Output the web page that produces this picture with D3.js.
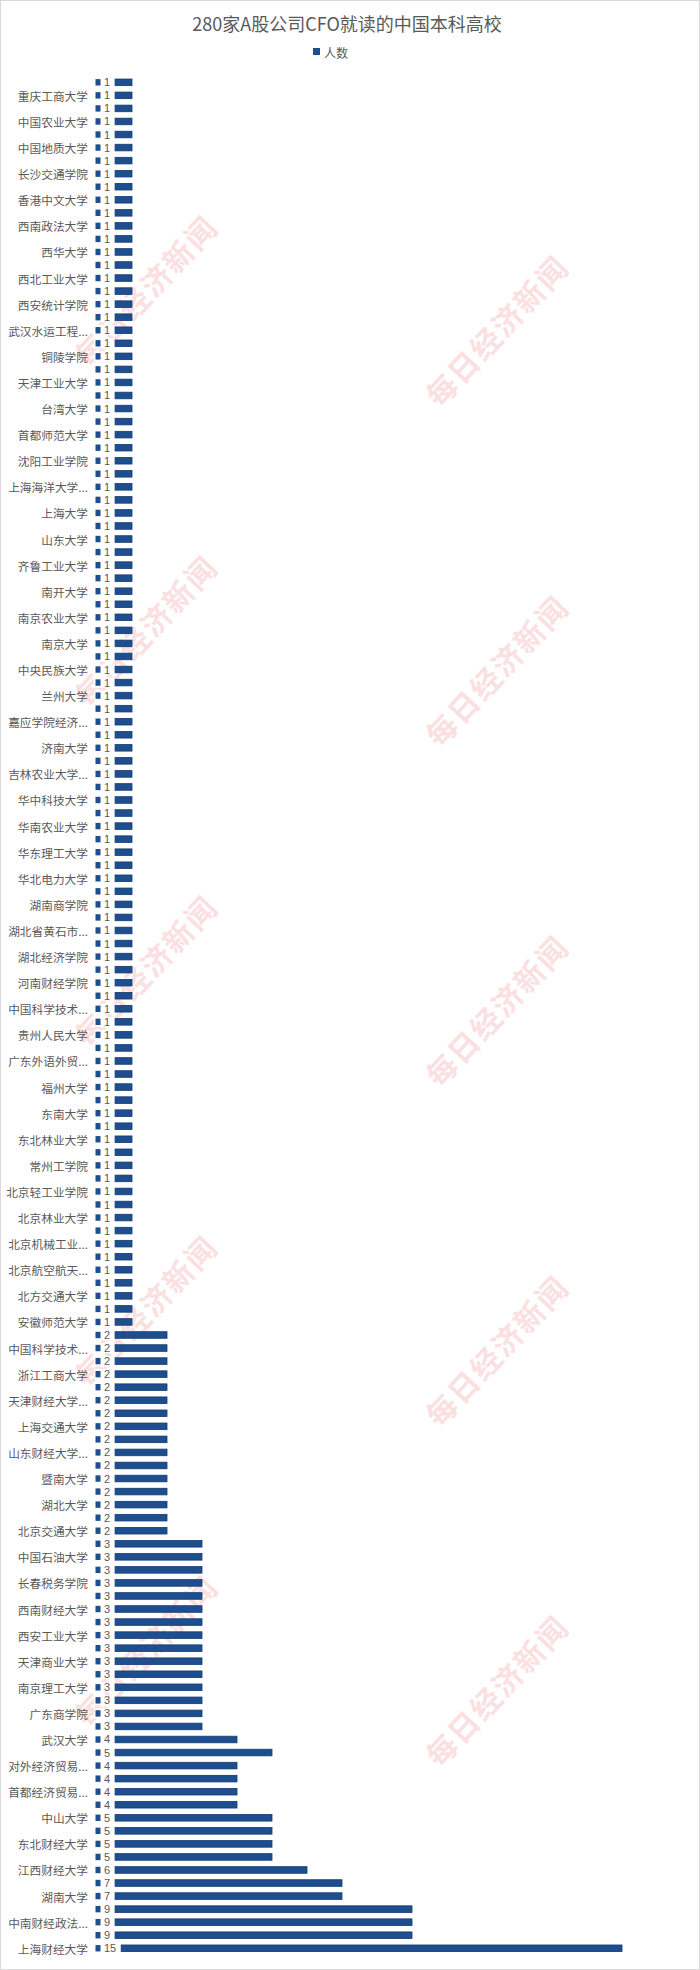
<!DOCTYPE html>
<html><head><meta charset="utf-8">
<script src="https://cdn.jsdelivr.net/npm/d3@7"></script>
<style>
body{margin:0;background:#fff}
text{font-family:"Noto Sans CJK SC","Noto Sans",sans-serif}
text.val{font-family:"Liberation Sans",Arial,sans-serif}
</style>
</head><body>
<svg id="c" width="700" height="1970"></svg>
<script>
const chartTitle = "280家A股公司CFO就读的中国本科高校";
const seriesName = "人数";
// top-to-bottom order; "" = row whose category label is not shown
const categories = [
"", "重庆工商大学", "", "中国农业大学", "", "中国地质大学", "", "长沙交通学院",
"", "香港中文大学", "", "西南政法大学", "", "西华大学", "", "西北工业大学",
"", "西安统计学院", "", "武汉水运工程...", "", "铜陵学院", "", "天津工业大学",
"", "台湾大学", "", "首都师范大学", "", "沈阳工业学院", "", "上海海洋大学...",
"", "上海大学", "", "山东大学", "", "齐鲁工业大学", "", "南开大学",
"", "南京农业大学", "", "南京大学", "", "中央民族大学", "", "兰州大学",
"", "嘉应学院经济...", "", "济南大学", "", "吉林农业大学...", "", "华中科技大学",
"", "华南农业大学", "", "华东理工大学", "", "华北电力大学", "", "湖南商学院",
"", "湖北省黄石市...", "", "湖北经济学院", "", "河南财经学院", "", "中国科学技术...",
"", "贵州人民大学", "", "广东外语外贸...", "", "福州大学", "", "东南大学",
"", "东北林业大学", "", "常州工学院", "", "北京轻工业学院", "", "北京林业大学",
"", "北京机械工业...", "", "北京航空航天...", "", "北方交通大学", "", "安徽师范大学",
"", "中国科学技术...", "", "浙江工商大学", "", "天津财经大学...", "", "上海交通大学",
"", "山东财经大学...", "", "暨南大学", "", "湖北大学", "", "北京交通大学",
"", "中国石油大学", "", "长春税务学院", "", "西南财经大学", "", "西安工业大学",
"", "天津商业大学", "", "南京理工大学", "", "广东商学院", "", "武汉大学",
"", "对外经济贸易...", "", "首都经济贸易...", "", "中山大学", "", "东北财经大学",
"", "江西财经大学", "", "湖南大学", "", "中南财经政法...", "", "上海财经大学"
];
const values = [
1,1,1,1,1,1,1,1, 1,1,1,1,1,1,1,1, 1,1,1,1,1,1,1,1,
1,1,1,1,1,1,1,1, 1,1,1,1,1,1,1,1, 1,1,1,1,1,1,1,1,
1,1,1,1,1,1,1,1, 1,1,1,1,1,1,1,1, 1,1,1,1,1,1,1,1,
1,1,1,1,1,1,1,1, 1,1,1,1,1,1,1,1, 1,1,1,1,1,1,1,1,
2,2,2,2,2,2,2,2, 2,2,2,2,2,2,2,2,
3,3,3,3,3,3,3,3, 3,3,3,3,3,3,3,
4,5,4,4,4,4,5,5,5,5,6,7,7,9,9,9,15
];
const xDomain = [0, 15];

const W = 700, H = 1970;
const svg = d3.select("#c");
const blue = "#1f4e8f", blueDark = "#133b70", grey = "#595959";

svg.append("rect").attr("x",0.5).attr("y",0.5).attr("width",W-1).attr("height",H-1)
  .attr("fill","#fff").attr("stroke","#d9d9d9");

// watermarks
const wmLayer = svg.append("g");
const wmPos = [[145,290],[145,630],[145,970],[145,1310],[145,1650],
               [496,330],[496,670],[496,1010],[496,1350],[496,1690]];
wmPos.forEach(p => {
  wmLayer.append("text").attr("transform",`translate(${p[0]},${p[1]}) rotate(-47)`)
    .attr("text-anchor","middle").attr("dominant-baseline","central")
    .attr("font-size",30).attr("font-weight","bold")
    .attr("fill","#f3b3b3").attr("opacity",0.4).attr("letter-spacing",2)
    .text("每日经济新闻");
});

svg.append("text").attr("x",347).attr("y",23).attr("text-anchor","middle")
  .attr("dominant-baseline","central").attr("font-size",18).attr("fill",grey).text(chartTitle);
svg.append("rect").attr("x",313).attr("y",48).attr("width",7).attr("height",7).attr("fill",blue);
svg.append("text").attr("x",324).attr("y",52).attr("dominant-baseline","central")
  .attr("font-size",12).attr("fill",grey).text(seriesName);

const idx = d3.range(categories.length);
const y = d3.scaleBand().domain(idx).range([75.8, 1954.8]).paddingInner(0.5).paddingOuter(0.25);
const x = d3.scaleLinear().domain(xDomain).range([97, 622]);
const yc = i => y(i) + y.bandwidth()/2;

// bars
svg.append("g").selectAll("rect").data(idx).join("rect")
  .attr("x", x(0)).attr("y", i => yc(i) - 3.3)
  .attr("width", i => x(values[i]) - x(0)).attr("height", 6.6)
  .attr("fill", blue).attr("stroke", blueDark).attr("stroke-width", 0.8);

// category labels
svg.append("g").selectAll("text").data(idx.filter(i => categories[i] !== "")).join("text")
  .attr("x", 88).attr("y", i => yc(i)).attr("text-anchor","end")
  .attr("dominant-baseline","central").attr("font-size",11.7).attr("fill",grey)
  .text(i => categories[i]);

// data labels with legend key
const lab = svg.append("g").selectAll("g").data(idx).join("g");
lab.append("rect").attr("class","bg").attr("x",94).attr("y",i=>yc(i)-5).attr("height",10).attr("fill","#fff");
lab.append("rect").attr("x",95.5).attr("y",i=>yc(i)-3.2).attr("width",5).attr("height",6.4).attr("fill",blue);
lab.append("text").attr("class","val").attr("x",104).attr("y",i=>yc(i)).attr("dominant-baseline","central")
  .attr("font-size",11).attr("fill",grey).text(i=>values[i]);
lab.each(function(){
  const g = d3.select(this);
  const w = g.select("text").node().getComputedTextLength();
  g.select("rect.bg").attr("width", 104 + w + 4.5 - 94);
});
</script>
</body></html>
